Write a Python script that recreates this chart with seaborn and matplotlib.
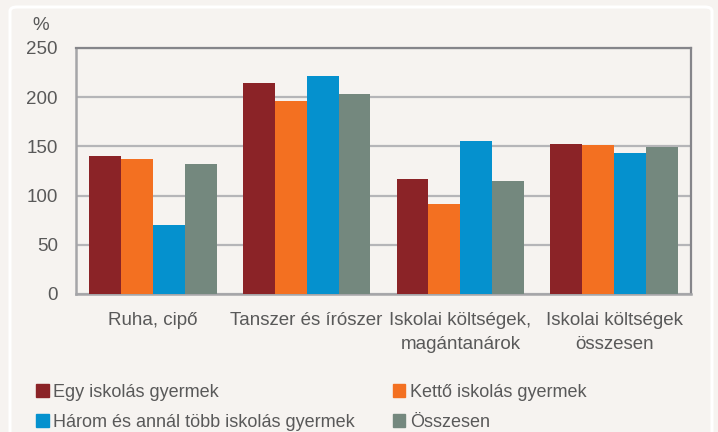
import matplotlib
matplotlib.use('Agg')
import matplotlib.pyplot as plt
import matplotlib.patches as mpatches
import seaborn as sns
import pandas as pd

categories = ['Ruha, cipő', 'Tanszer és írószer', 'Iskolai költségek,\nmagántanárok', 'Iskolai költségek\nösszesen']
series = ['Egy iskolás gyermek', 'Kettő iskolás gyermek', 'Három és annál több iskolás gyermek', 'Összesen']
# values per series, over the categories
egy = [140.5, 214, 117, 152.5]
ketto = [137, 196, 91, 151.5]
harom = [70, 222, 155.5, 143.5]
osszesen = [132, 203.5, 115, 149.5]
colors = ['#8B2327', '#F37021', '#0591CE', '#74887E']

rows = []
for name, vals in zip(series, [egy, ketto, harom, osszesen]):
    for cat, v in zip(categories, vals):
        rows.append({'cat': cat, 'series': name, 'value': v})
df = pd.DataFrame(rows)

sns.set_style('white')
plt.rcParams['font.family'] = ['Liberation Sans', 'DejaVu Sans']
bg = '#F6F3F0'
txt = '#595959'

fig = plt.figure(figsize=(7.18, 4.32), dpi=100, facecolor=bg)
ax = fig.add_axes([76 / 718, 138 / 432, 615 / 718, 246 / 432])
ax.set_facecolor(bg)

sns.barplot(data=df, x='cat', y='value', hue='series', palette=colors,
            order=categories, hue_order=series, width=0.83, linewidth=0,
            saturation=1, ax=ax, zorder=3)

ax.set_ylim(0, 250)
ax.set_yticks([0, 50, 100, 150, 200, 250])
ax.set_xlim(-0.5, 3.5)
ax.yaxis.grid(True, color='#B5B5B8', linewidth=1.6, zorder=0)
ax.set_axisbelow(True)
ax.set_xlabel('')
ax.set_ylabel('')
ax.tick_params(axis='y', length=0, pad=13, labelsize=13.5, labelcolor=txt)
ax.tick_params(axis='x', length=0, pad=13, labelsize=13.5, labelcolor=txt)
for lbl in ax.get_xticklabels():
    lbl.set_linespacing(1.5)

for side in ['top', 'right']:
    ax.spines[side].set_color('#85858A')
    ax.spines[side].set_linewidth(1.6)
for side in ['left', 'bottom']:
    ax.spines[side].set_color('#A5A5A8')
    ax.spines[side].set_linewidth(1.8)

fig.text(32 / 718, 1 - 25 / 432, '%', fontsize=13.5, color=txt, va='center', ha='left')

# white frame
frame = mpatches.FancyBboxPatch((10 / 718, -0.05), 702 / 718, 1 - 7 / 432 + 0.05,
                                boxstyle='round,pad=0,rounding_size=0.01',
                                transform=fig.transFigure, fill=False,
                                edgecolor='white', linewidth=2.2, zorder=0)
fig.patches.append(frame)

ax.get_legend().remove()
handles = [mpatches.Patch(color=c, label=s) for c, s in zip(colors, series)]
# legend fills column-wise, so reorder to read row-wise
handles = [handles[0], handles[2], handles[1], handles[3]]
fig.legend(handles=handles, loc='upper left', bbox_to_anchor=(36 / 718, 1 - 384 / 432),
           ncol=2, frameon=False, fontsize=13, labelcolor=txt,
           handlelength=0.7, handleheight=0.7, handletextpad=0.25,
           columnspacing=2.1, labelspacing=0.7, borderaxespad=0, borderpad=0)

fig.savefig('out.png', dpi=100, facecolor=bg)
